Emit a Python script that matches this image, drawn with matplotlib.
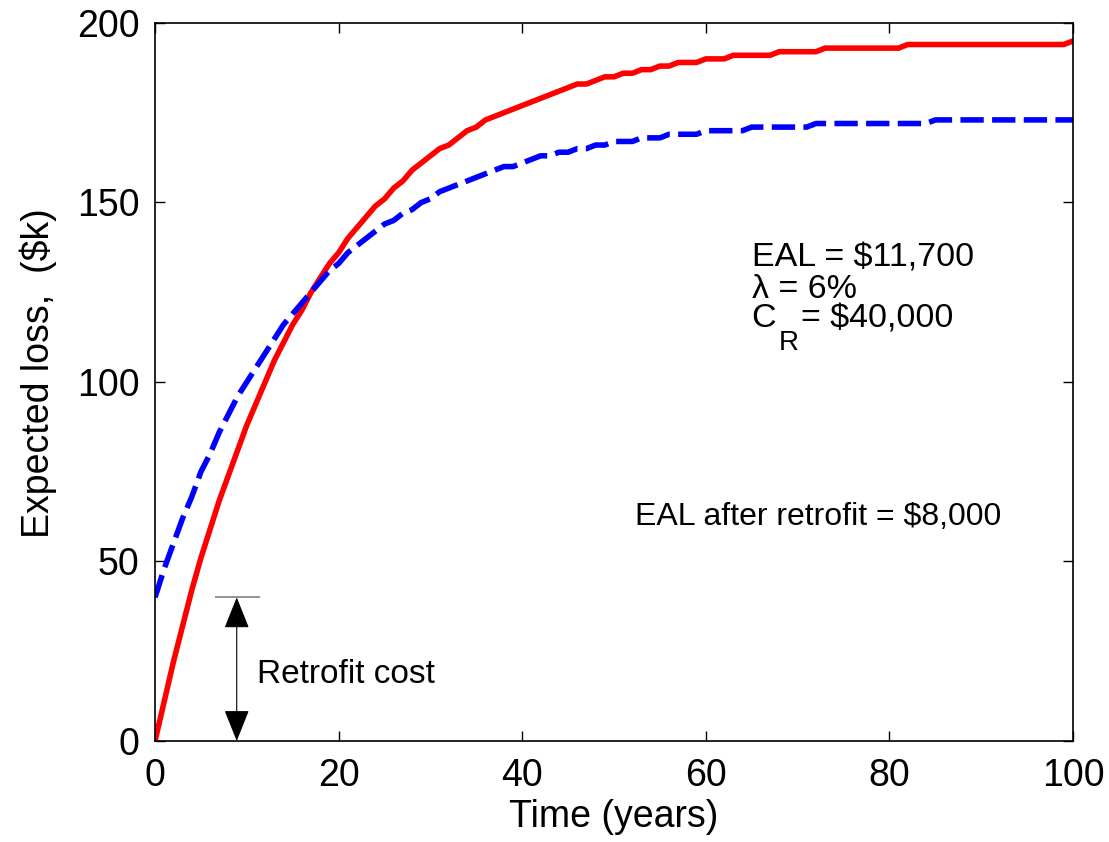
import numpy as np
import matplotlib.pyplot as plt

plt.rcParams['font.family'] = ['Liberation Sans', 'DejaVu Sans']

# time axis (years)
years = list(range(0, 101))

# expected loss without retrofit ($k)
loss_no_retrofit = [
    0, 11, 22, 32, 42, 51, 59, 67, 74, 81,
    88, 94, 100, 106, 111, 116, 120, 125, 129, 133,
    136, 140, 143, 146, 149, 151, 154, 156, 159, 161,
    163, 165, 166, 168, 170, 171, 173, 174, 175, 176,
    177, 178, 179, 180, 181, 182, 183, 183, 184, 185,
    185, 186, 186, 187, 187, 188, 188, 189, 189, 189,
    190, 190, 190, 191, 191, 191, 191, 191, 192, 192,
    192, 192, 192, 193, 193, 193, 193, 193, 193, 193,
    193, 193, 194, 194, 194, 194, 194, 194, 194, 194,
    194, 194, 194, 194, 194, 194, 194, 194, 194, 194,
    195]

# expected loss with retrofit ($k), includes retrofit cost
loss_retrofit = [
    40, 48, 55, 62, 68, 75, 80, 86, 91, 96,
    100, 104, 108, 112, 116, 119, 122, 125, 128, 131,
    133, 136, 138, 140, 142, 144, 145, 147, 148, 150,
    151, 153, 154, 155, 156, 157, 158, 159, 160, 160,
    161, 162, 163, 163, 164, 164, 165, 165, 166, 166,
    167, 167, 167, 168, 168, 168, 169, 169, 169, 169,
    170, 170, 170, 170, 170, 171, 171, 171, 171, 171,
    171, 171, 172, 172, 172, 172, 172, 172, 172, 172,
    172, 172, 172, 172, 172, 173, 173, 173, 173, 173,
    173, 173, 173, 173, 173, 173, 173, 173, 173, 173,
    173]

retrofit_cost = 40
arrow_year = 8.9

fig = plt.figure(figsize=(11.09, 8.42), dpi=100)
ax = fig.add_axes([0.1398, 0.1200, 0.8277, 0.8527])

ax.plot(years, loss_no_retrofit, color='red', lw=4)
ax.plot(years, loss_retrofit, color='blue', lw=4, linestyle=(0, (4.2, 1.5)))

# retrofit cost marker
ax.hlines(retrofit_cost, 6.5, 11.4, color='#808080', lw=1.2)
ax.annotate('', xy=(arrow_year, 0), xytext=(arrow_year, retrofit_cost),
            arrowprops=dict(arrowstyle='<|-|>,head_length=1.0,head_width=0.4',
                            color='black', lw=0.8,
                            mutation_scale=20, shrinkA=0, shrinkB=0))
ax.text(11.1, 16.2, 'Retrofit cost', fontsize=24, va='baseline', ha='left')

ax.text(65, 132.3, 'EAL = $11,700', fontsize=24.5, va='baseline', ha='left')
ax.text(65, 123.4, 'λ = 6%', fontsize=24.5, va='baseline', ha='left')
ax.text(65, 115.3, 'C', fontsize=24.5, va='baseline', ha='left')
ax.text(67.9, 108.9, 'R', fontsize=20, va='baseline', ha='left')
ax.text(70.4, 115.3, '= $40,000', fontsize=24.5, va='baseline', ha='left')
ax.text(52.3, 60.2, 'EAL after retrofit = $8,000', fontsize=23, va='baseline', ha='left')

ax.set_xlim(0, 100)
ax.set_ylim(0, 200)
ax.set_xticks([0, 20, 40, 60, 80, 100])
ax.set_yticks([0, 50, 100, 150, 200])
ax.tick_params(direction='in', top=True, right=True, labelsize=27, length=7,
               width=1)
ax.tick_params(axis='x', pad=12)
ax.tick_params(axis='y', pad=11)
for s in ax.spines.values():
    s.set_linewidth(1.2)

ax.set_xlabel('Time (years)', fontsize=27, va='baseline')
ax.xaxis.set_label_coords(0.4995, -0.1198)
ax.set_ylabel('Expected loss,  ($k)', fontsize=27)
ax.yaxis.set_label_coords(-0.1068, 0.5125)

fig.savefig('out.png', dpi=100)
